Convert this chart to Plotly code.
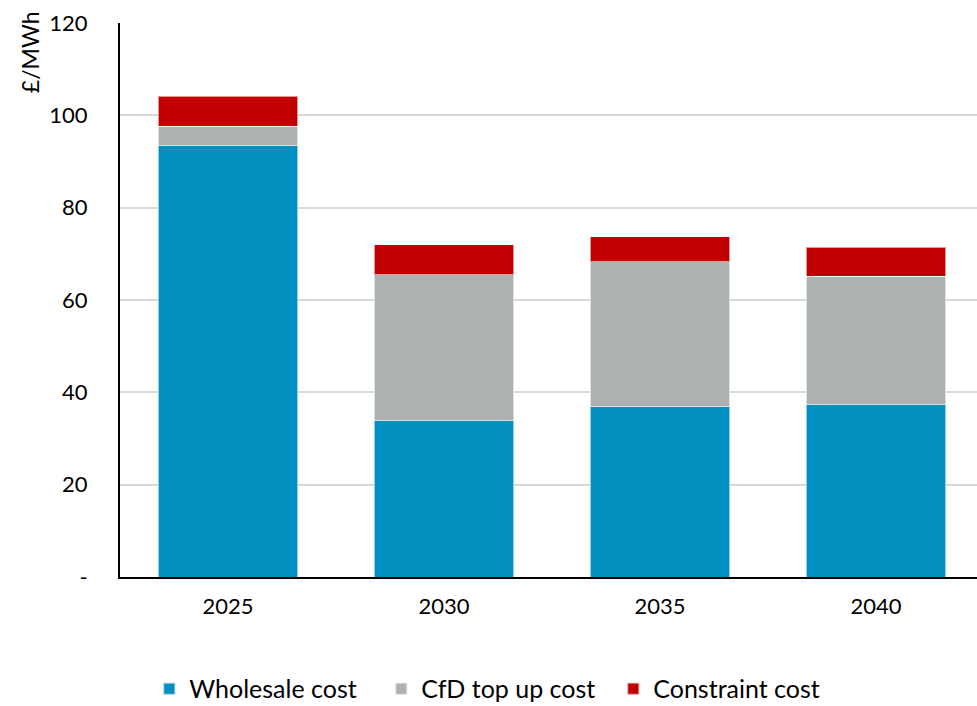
import plotly.graph_objects as go

years = ["2025", "2030", "2035", "2040"]
wholesale = [93.4, 33.9, 36.9, 37.3]
cfd = [4.2, 31.6, 31.4, 27.8]
constraint = [6.5, 6.5, 5.4, 6.3]

series_names = ["Wholesale cost", "CfD top up cost", "Constraint cost"]
colors = ["#008FBF", "#AEB1B1", "#C00000"]

y_tickvals = [0, 20, 40, 60, 80, 100, 120]
y_ticktext = ["-", "20", "40", "60", "80", "100", "120"]

FONT = "Lato"

fig = go.Figure()
for name, vals, col in zip(series_names, [wholesale, cfd, constraint], colors):
    fig.add_trace(go.Bar(
        x=years, y=vals, name=name,
        marker=dict(color=col, line=dict(color="rgba(255,255,255,0.6)", width=1)),
        width=0.645,
    ))

fig.update_layout(
    barmode="stack",
    width=977, height=706,
    margin=dict(l=120, r=0, t=23, b=129, autoexpand=False),
    plot_bgcolor="white", paper_bgcolor="white",
    font=dict(family=FONT, size=22, color="#000000"),
    xaxis=dict(
        type="category", range=[-0.5, 3.468],
        showline=True, linecolor="black", linewidth=2,
        ticks="", showgrid=False, automargin=False,
        tickfont=dict(size=22), ticklabelstandoff=9,
    ),
    yaxis=dict(
        range=[0, 120], tickvals=y_tickvals, ticktext=y_ticktext,
        showline=True, linecolor="black", linewidth=2,
        showgrid=True, gridcolor="#D9D9D9", gridwidth=1.5,
        zeroline=False, ticks="", ticklabelstandoff=26, automargin=False,
        tickfont=dict(size=22),
    ),
    legend=dict(
        orientation="h", xref="container", yref="paper",
        x=0.509, xanchor="center", y=-0.202, yanchor="middle",
        font=dict(size=25), itemwidth=30, traceorder="normal",
        entrywidth=187, itemsizing="constant",
    ),
    showlegend=True,
)

fig.add_annotation(
    text="£/MWh", textangle=-90,
    xref="paper", yref="paper", x=-0.105, y=1.025,
    xanchor="center", yanchor="top", showarrow=False,
    font=dict(size=23),
)

fig.write_html("out.html", config={"displayModeBar": False},
               post_script="document.body.style.margin='0px';")
